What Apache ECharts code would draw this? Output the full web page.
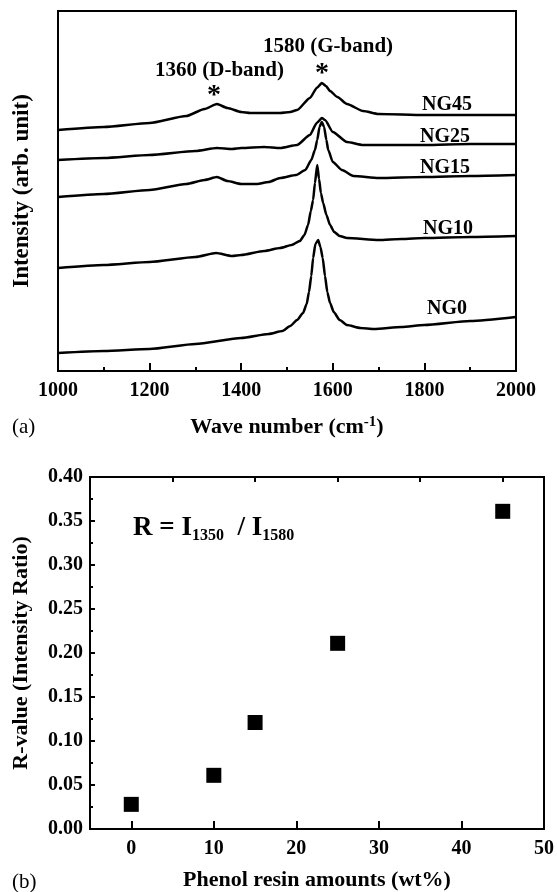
<!DOCTYPE html>
<html>
<head>
<meta charset="utf-8">
<script src="https://cdn.jsdelivr.net/npm/echarts@6/dist/echarts.min.js"></script>
<style>
html,body{margin:0;padding:0;background:#fff;}
#chart{width:557px;height:892px;}
</style>
</head>
<body>
<div id="chart"></div>
<script>
// ---- Panel (a): Raman spectra (intensity in arbitrary offset units) ----
const ng0 = [[1000,18],[1100,20],[1200,22],[1300,27],[1400,33],[1460,37],[1490,40],[1507,45],[1522,51],[1535,58],[1543,67],[1548,79],[1553,95],[1557,113],[1562,127],[1568,131],[1573,124],[1578,113],[1583,95],[1588,79],[1594,68],[1602,59],[1615,51],[1631,46],[1660,43],[1690,42],[1750,44],[1800,46],[1900,50],[2000,54]];
const ng10 = [[1000,103],[1100,106],[1200,109],[1300,114],[1345,118],[1380,115],[1400,116],[1450,120],[1485,123],[1510,126],[1528,130],[1538,136],[1546,146],[1552,160],[1557,171],[1561,188],[1566,206],[1570,192],[1574,178],[1579,168],[1586,156],[1594,146],[1603,139],[1615,135],[1631,133],[1700,131],[1750,132],[1800,133],[1900,134],[2000,135]];
const ng15 = [[1000,174],[1100,177],[1200,181],[1280,187],[1320,191],[1347,194],[1370,190],[1400,187],[1434,187],[1460,189],[1485,193],[1520,196],[1540,201],[1553,211],[1561,221],[1566,231],[1571,244],[1576,249],[1581,244],[1586,231],[1590,221],[1600,209],[1620,201],[1645,195],[1700,193],[1800,194],[1900,195],[2000,196]];
const ng25 = [[1000,211],[1100,213],[1200,216],[1300,220],[1347,223],[1380,222],[1400,223],[1450,224],[1485,223],[1522,226],[1550,236],[1565,248],[1576,253],[1583,251],[1600,239],[1631,229],[1666,226],[1700,226],[1800,226],[1900,227],[2000,227]];
const ng45 = [[1000,241],[1100,244],[1200,248],[1280,255],[1320,262],[1347,267],[1370,263],[1400,259],[1420,258],[1450,258],[1485,258],[1507,259],[1522,261],[1550,273],[1565,283],[1576,288],[1585,285],[1594,280],[1610,274],[1631,267],[1666,260],[1700,257],[1800,256],[1900,256],[2000,256]];
const spectraNames = ['NG0','NG10','NG15','NG25','NG45'];
const spectra = [ng0, ng10, ng15, ng25, ng45];

// ---- Panel (b): R-value vs phenol resin amount ----
const resinAmounts = [0, 10, 15, 25, 45];
const rValues = [0.028, 0.061, 0.121, 0.211, 0.361];

const xTicksA = [1000, 1200, 1400, 1600, 1800, 2000];
const xTicksB = [0, 10, 20, 30, 40, 50];
const xMinorTicksB = [5, 15, 25, 35, 45];

const FONT = '"Liberation Serif", "DejaVu Serif", serif';
const chart = echarts.init(document.getElementById('chart'), null, {renderer: 'canvas'});

const boldLabel = {color:'#000', fontFamily: FONT, fontWeight:'bold', fontSize: 20};

const option = {
  animation: false,
  backgroundColor: '#fff',
  grid: [
    {left: 58, top: 11, width: 458, height: 360, show: true, borderColor: '#000', borderWidth: 2},
    {left: 90, top: 477, width: 455, height: 354, show: true, borderColor: '#000', borderWidth: 2}
  ],
  xAxis: [
    {
      gridIndex: 0, type: 'value', min: 1000, max: 2000, interval: 200,
      axisLine: {show: true, onZero: false, lineStyle: {color:'#000', width: 2}},
      axisTick: {show: true, inside: true, length: 8, lineStyle: {color:'#000', width: 2}},
      minorTick: {show: true, splitNumber: 2, length: 4, lineStyle: {color:'#000', width: 2}},
      splitLine: {show: false},
      axisLabel: Object.assign({margin: 10, customValues: xTicksA, formatter: v => String(v)}, boldLabel),
      name: 'Wave number (cm{sup|-1})',
      nameLocation: 'middle', nameGap: 44,
      nameTextStyle: {color:'#000', fontFamily: FONT, fontWeight:'bold', fontSize: 22,
        rich: {sup: {fontFamily: FONT, fontWeight:'bold', fontSize: 15, padding: [0,0,10,0], color:'#000'}}}
    },
    {
      gridIndex: 1, type: 'value', min: -5, max: 50, interval: 5,
      axisLine: {show: true, onZero: false, lineStyle: {color:'#000', width: 2}},
      axisTick: {show: true, inside: true, length: 8, customValues: xTicksB, lineStyle: {color:'#000', width: 2}},
      splitLine: {show: false},
      axisLabel: Object.assign({margin: 10, customValues: xTicksB, formatter: v => String(v)}, boldLabel),
      name: 'Phenol resin amounts (wt%)',
      nameLocation: 'middle', nameGap: 40,
      nameTextStyle: {color:'#000', fontFamily: FONT, fontWeight:'bold', fontSize: 22}
    },
    {
      gridIndex: 1, type: 'value', min: -5, max: 50, interval: 5,
      axisLine: {show: false, onZero: false},
      axisTick: {show: true, inside: true, length: 5, customValues: xMinorTicksB, lineStyle: {color:'#000', width: 2}},
      splitLine: {show: false},
      axisLabel: {show: false}
    }
  ],
  yAxis: [
    {
      gridIndex: 0, type: 'value', min: 0, max: 360,
      axisLine: {show: true, onZero: false, lineStyle: {color:'#000', width: 2}},
      axisTick: {show: false}, axisLabel: {show: false}, splitLine: {show: false},
      name: 'Intensity (arb. unit)', nameLocation: 'middle', nameGap: 24,
      nameTextStyle: {color:'#000', fontFamily: FONT, fontWeight:'bold', fontSize: 23}
    },
    {
      gridIndex: 1, type: 'value', min: 0, max: 0.4, interval: 0.05,
      axisLine: {show: true, onZero: false, lineStyle: {color:'#000', width: 2}},
      axisTick: {show: true, inside: true, length: 5, lineStyle: {color:'#000', width: 2}},
      minorTick: {show: true, splitNumber: 2, length: 3, lineStyle: {color:'#000', width: 2}},
      splitLine: {show: false},
      axisLabel: Object.assign({margin: 7, formatter: v => v.toFixed(2)}, boldLabel),
      name: 'R-value (Intensity Ratio)', nameLocation: 'middle', nameGap: 58,
      nameTextStyle: {color:'#000', fontFamily: FONT, fontWeight:'bold', fontSize: 22}
    }
  ],
  series: spectra.map((d, i) => ({
    name: spectraNames[i], type: 'line', xAxisIndex: 0, yAxisIndex: 0,
    data: d, showSymbol: false, symbol: 'none', smooth: 0.2, smoothMonotone: 'x',
    lineStyle: {color: '#000', width: 2.5}
  })).concat([{
    name: 'R', type: 'scatter', xAxisIndex: 1, yAxisIndex: 1,
    data: resinAmounts.map((x, i) => [x, rValues[i]]),
    symbol: 'rect', symbolSize: 15, itemStyle: {color: '#000', opacity: 1}
  }]),
  graphic: [
    {type:'text', left: 155, top: 60, style:{text:'1360 (D-band)', font:'bold 21px ' + FONT, fill:'#000'}},
    {type:'text', left: 263, top: 36, style:{text:'1580 (G-band)', font:'bold 21px ' + FONT, fill:'#000'}},
    {type:'text', left: 207, top: 82, style:{text:'*', font:'bold 28px ' + FONT, fill:'#000'}},
    {type:'text', left: 315, top: 60, style:{text:'*', font:'bold 28px ' + FONT, fill:'#000'}},
    {type:'text', left: 422, top: 95, style:{text:'NG45', font:'bold 20px ' + FONT, fill:'#000'}},
    {type:'text', left: 420, top: 127, style:{text:'NG25', font:'bold 20px ' + FONT, fill:'#000'}},
    {type:'text', left: 420, top: 158, style:{text:'NG15', font:'bold 20px ' + FONT, fill:'#000'}},
    {type:'text', left: 423, top: 219, style:{text:'NG10', font:'bold 20px ' + FONT, fill:'#000'}},
    {type:'text', left: 427, top: 299, style:{text:'NG0', font:'bold 20px ' + FONT, fill:'#000'}},
    {type:'text', left: 12, top: 417, style:{text:'(a)', font:'21px ' + FONT, fill:'#000'}},
    {type:'text', left: 12, top: 872, style:{text:'(b)', font:'21px ' + FONT, fill:'#000'}},
    {type:'text', left: 133, top: 515, style:{
      text:'R = I{sub|1350}  / I{sub|1580}',
      font:'bold 27px ' + FONT, fill:'#000',
      rich:{sub:{font:'bold 16px ' + FONT, fill:'#000', padding:[14,0,0,0]}}
    }}
  ]
};
chart.setOption(option);
</script>
</body>
</html>
